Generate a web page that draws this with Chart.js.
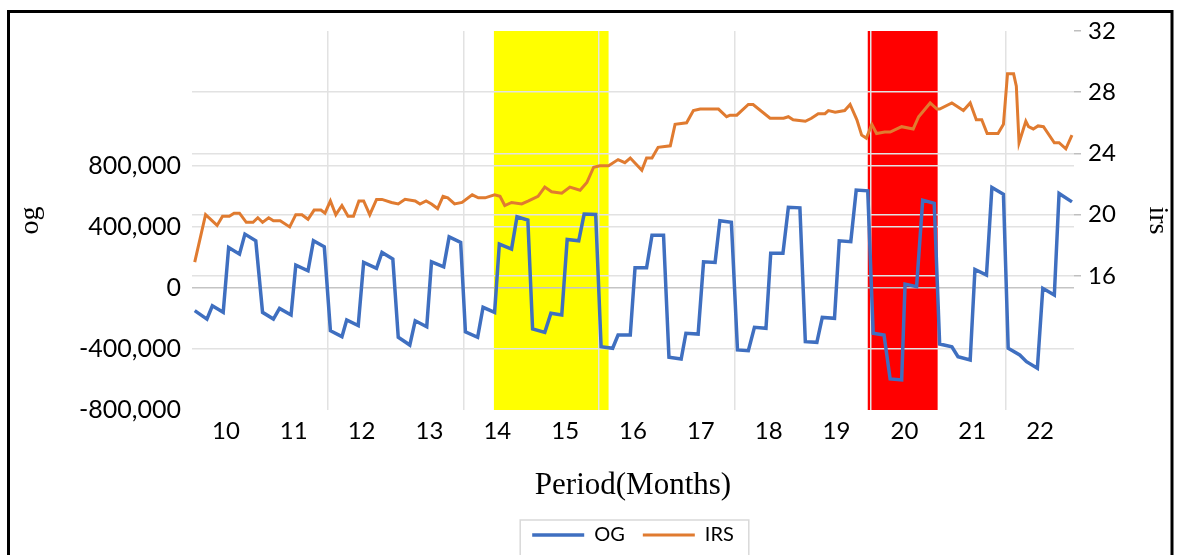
<!DOCTYPE html>
<html lang="en">

<head>
    <meta charset="UTF-8">
    <title>OG vs IRS</title>
    <script src="https://cdn.jsdelivr.net/npm/chart.js"></script>
    <style>
        body {
            margin: 0;
            background: #ffffff;
        }

        .chart-container {
            width: 1180px;
            height: 555px;
            position: relative;
        }
    </style>
</head>

<body>

    <div class="chart-container">
        <canvas id="ogIrsChart"></canvas>
    </div>

    <script>
        // OG series (left axis)
        const ogMonths = [
            9.54, 9.72, 9.80, 9.96, 10.04, 10.20, 10.28, 10.44, 10.54, 10.70, 10.79, 10.96,
            11.03, 11.21, 11.29, 11.45, 11.54, 11.71, 11.78, 11.95, 12.03, 12.22, 12.30, 12.46,
            12.54, 12.71, 12.79, 12.96, 13.03, 13.21, 13.29, 13.46, 13.53, 13.71, 13.79, 13.96,
            14.03, 14.21, 14.29, 14.45, 14.52, 14.70, 14.79, 14.95, 15.03, 15.20, 15.28, 15.45,
            15.53, 15.70, 15.78, 15.96, 16.03, 16.20, 16.28, 16.45, 16.53, 16.71, 16.78, 16.96,
            17.04, 17.21, 17.28, 17.45, 17.54, 17.70, 17.79, 17.96, 18.03, 18.21, 18.29, 18.46,
            18.54, 18.71, 18.79, 18.97, 19.04, 19.21, 19.29, 19.46, 19.54, 19.70, 19.79, 19.96,
            20.01, 20.18, 20.27, 20.44, 20.52, 20.70, 20.79, 20.97, 21.04, 21.21, 21.29, 21.46,
            21.53, 21.70, 21.80, 21.96, 22.04, 22.21, 22.28, 22.47
        ];
        const ogValues = [
            -150000, -205000, -118000, -161000, 264000, 220000, 351000, 307000,
            -161000, -205000, -135000, -178000, 148000, 111000, 307000, 268000,
            -281000, -320000, -211000, -248000, 166000, 127000, 231000, 188000,
            -324000, -375000, -216000, -255000, 170000, 137000, 333000, 297000,
            -288000, -324000, -128000, -161000, 286000, 253000, 464000, 443000,
            -270000, -292000, -167000, -178000, 316000, 307000, 482000, 480000,
            -386000, -396000, -309000, -309000, 131000, 131000, 344000, 344000,
            -455000, -466000, -298000, -303000, 170000, 166000, 438000, 428000,
            -407000, -412000, -259000, -265000, 225000, 225000, 526000, 523000,
            -353000, -357000, -194000, -200000, 307000, 301000, 639000, 634000,
            -298000, -309000, -597000, -603000, 24000, 7000, 573000, 552000,
            -368000, -386000, -451000, -473000, 120000, 83000, 656000, 612000,
            -396000, -440000, -484000, -527000, -4000, -48000, 617000, 562000
        ];

        // IRS series (right axis)
        const irsMonths = [
            9.54, 9.70, 9.87, 9.95, 10.05, 10.12, 10.20, 10.30, 10.40, 10.47,
            10.54, 10.63, 10.70, 10.80, 10.94, 11.03, 11.12, 11.21, 11.30, 11.40,
            11.46, 11.54, 11.62, 11.71, 11.80, 11.88, 11.96, 12.03, 12.12, 12.22,
            12.30, 12.44, 12.54, 12.64, 12.79, 12.86, 12.95, 13.03, 13.12, 13.20,
            13.27, 13.37, 13.48, 13.63, 13.72, 13.82, 13.96, 14.04, 14.11, 14.21,
            14.36, 14.46, 14.60, 14.70, 14.80, 14.95, 15.07, 15.22, 15.32, 15.42,
            15.51, 15.64, 15.78, 15.88, 15.96, 16.13, 16.20, 16.28, 16.37, 16.55,
            16.62, 16.79, 16.89, 16.99, 17.13, 17.26, 17.38, 17.43, 17.53, 17.70,
            17.77, 18.02, 18.22, 18.29, 18.36, 18.54, 18.63, 18.73, 18.83, 18.88,
            18.98, 19.12, 19.20, 19.30, 19.37, 19.44, 19.52, 19.59, 19.71, 19.79,
            19.96, 20.13, 20.21, 20.38, 20.48, 20.52, 20.70, 20.87, 20.97, 21.06,
            21.14, 21.22, 21.38, 21.46, 21.52, 21.61, 21.65, 21.69, 21.79, 21.83,
            21.90, 21.97, 22.05, 22.21, 22.28, 22.38, 22.47
        ];
        const irsValues = [
            16.9, 20.0, 19.3, 19.9, 19.9, 20.1, 20.1, 19.5, 19.5, 19.8,
            19.5, 19.8, 19.6, 19.6, 19.2, 20.0, 20.0, 19.7, 20.3, 20.3,
            20.1, 20.9, 20.0, 20.6, 19.9, 19.9, 20.9, 20.9, 20.0, 21.0,
            21.0, 20.8, 20.7, 21.0, 20.9, 20.7, 20.9, 20.7, 20.4, 21.2,
            21.1, 20.7, 20.8, 21.3, 21.1, 21.1, 21.3, 21.2, 20.6, 20.8,
            20.7, 20.9, 21.2, 21.8, 21.5, 21.4, 21.8, 21.6, 22.1, 23.1,
            23.2, 23.2, 23.6, 23.4, 23.7, 22.9, 23.7, 23.7, 24.4, 24.5,
            25.9, 26.0, 26.8, 26.9, 26.9, 26.9, 26.4, 26.5, 26.5, 27.2,
            27.2, 26.3, 26.3, 26.4, 26.2, 26.1, 26.3, 26.6, 26.6, 26.8,
            26.7, 26.8, 27.2, 26.2, 25.2, 25.0, 25.9, 25.3, 25.4, 25.4,
            25.75, 25.6, 26.4, 27.3, 26.9, 26.9, 27.3, 26.8, 27.3, 26.2,
            26.2, 25.3, 25.3, 25.9, 29.2, 29.2, 28.4, 24.7, 26.1, 25.75,
            25.6, 25.8, 25.75, 24.7, 24.7, 24.3, 25.2
        ];

        // axis ticks
        const monthTicks = [10, 11, 12, 13, 14, 15, 16, 17, 18, 19, 20, 21, 22];
        const gridMonths = [11.5, 13.5, 15.5, 17.5, 19.5, 21.5];
        const ogTicks = [-800000, -400000, 0, 400000, 800000];
        const irsTicks = [16, 20, 24, 28, 32];

        // highlighted periods (months)
        const yellowBand = [13.95, 15.64];
        const redBand = [19.46, 20.49];

        const gridColor = '#e2e2e2';
        const tickFont = { family: 'Lato', size: 24 };

        const framePlugin = {
            id: 'frame',
            beforeDraw(chart) {
                const { ctx, chartArea, scales } = chart;
                const x = scales.x;
                ctx.save();
                [[yellowBand, '#ffff00'], [redBand, '#ff0000']].forEach(([band, color]) => {
                    const x0 = x.getPixelForValue(band[0]);
                    const x1 = x.getPixelForValue(band[1]);
                    ctx.fillStyle = color;
                    ctx.fillRect(x0, chartArea.top, x1 - x0, chartArea.bottom - chartArea.top);
                });
                ctx.restore();
            },
            afterDraw(chart) {
                const ctx = chart.ctx;
                ctx.save();
                // box round the legend
                const boxes = chart.legend.legendHitBoxes;
                if (boxes && boxes.length) {
                    const first = boxes[0];
                    const last = boxes[boxes.length - 1];
                    const left = first.left - 12;
                    const right = last.left + last.width + 15;
                    ctx.strokeStyle = '#d9d9d9';
                    ctx.lineWidth = 1.5;
                    ctx.strokeRect(left, 520, right - left, 60);
                }
                // outer frame
                ctx.strokeStyle = '#000000';
                ctx.lineWidth = 3;
                ctx.strokeRect(8.5, 11.5, 1163.5, 600);
                ctx.restore();
            }
        };

        const ctx = document.getElementById('ogIrsChart').getContext('2d');
        const chart = new Chart(ctx, {
            type: 'line',
            data: {
                datasets: [{
                    label: 'OG',
                    data: ogMonths.map((m, i) => ({ x: m, y: ogValues[i] })),
                    borderColor: '#3f6fc0',
                    backgroundColor: '#3f6fc0',
                    borderWidth: 3.5,
                    pointRadius: 0,
                    tension: 0,
                    yAxisID: 'y'
                }, {
                    label: 'IRS',
                    data: irsMonths.map((m, i) => ({ x: m, y: irsValues[i] })),
                    borderColor: '#e07b30',
                    backgroundColor: '#e07b30',
                    borderWidth: 3,
                    pointRadius: 0,
                    tension: 0,
                    yAxisID: 'y1'
                }]
            },
            options: {
                responsive: true,
                maintainAspectRatio: false,
                animation: false,
                layout: {
                    padding: { top: 31, left: 0, right: 0, bottom: 0 }
                },
                plugins: {
                    legend: {
                        position: 'bottom',
                        fullSize: false,
                        labels: {
                            usePointStyle: true,
                            pointStyle: 'line',
                            pointStyleWidth: 52,
                            padding: 18,
                            color: '#000000',
                            font: { family: 'Lato', size: 20 }
                        }
                    },
                    tooltip: { enabled: false }
                },
                scales: {
                    x: {
                        type: 'linear',
                        min: 9.5,
                        max: 22.5,
                        afterBuildTicks: scale => {
                            scale.ticks = monthTicks.concat(gridMonths)
                                .sort((a, b) => a - b)
                                .map(v => ({ value: v }));
                        },
                        afterFit: scale => { scale.height = 97; },
                        ticks: {
                            autoSkip: false,
                            maxRotation: 0,
                            padding: 7,
                            color: '#000000',
                            font: tickFont,
                            callback: v => Number.isInteger(v) ? v : ''
                        },
                        grid: {
                            drawTicks: false,
                            lineWidth: 1.5,
                            color: c => (c.tick && !Number.isInteger(c.tick.value)) ? gridColor : 'rgba(0,0,0,0)'
                        },
                        border: { display: false },
                        title: {
                            display: true,
                            text: 'Period(Months)',
                            color: '#000000',
                            font: { family: 'Liberation Serif', size: 31 },
                            padding: { top: 0, bottom: 3 }
                        }
                    },
                    y: {
                        position: 'left',
                        min: -800000,
                        max: 1680000,
                        afterBuildTicks: scale => {
                            scale.ticks = ogTicks.map(v => ({ value: v }));
                        },
                        afterFit: scale => { scale.width = 192; },
                        ticks: {
                            padding: 11,
                            color: '#000000',
                            font: { family: 'Lato', size: 25 },
                            callback: v => v.toLocaleString('en-US')
                        },
                        grid: {
                            drawTicks: false,
                            lineWidth: 1.5,
                            color: c => {
                                if (!c.tick) return gridColor;
                                if (c.tick.value === 0) return '#c4c4c4';
                                if (c.tick.value === -800000) return 'rgba(0,0,0,0)';
                                return gridColor;
                            }
                        },
                        border: { display: false },
                        title: {
                            display: true,
                            text: 'og',
                            color: '#000000',
                            font: { family: 'Liberation Serif', size: 28 },
                            padding: { top: 14, bottom: 0 }
                        }
                    },
                    y1: {
                        position: 'right',
                        min: 7.24,
                        max: 32,
                        afterBuildTicks: scale => {
                            scale.ticks = irsTicks.map(v => ({ value: v }));
                        },
                        afterFit: scale => { scale.width = 106; },
                        ticks: {
                            padding: 7,
                            color: '#000000',
                            font: tickFont
                        },
                        grid: {
                            drawTicks: true,
                            tickLength: 7,
                            tickColor: '#bfbfbf',
                            lineWidth: 1.5,
                            color: c => (c.tick && c.tick.value === 32) ? 'rgba(0,0,0,0)' : gridColor
                        },
                        border: { display: false },
                        title: {
                            display: true,
                            text: 'irs',
                            color: '#000000',
                            font: { family: 'Liberation Serif', size: 28 },
                            padding: { top: 6, bottom: 0 }
                        }
                    }
                }
            },
            plugins: [framePlugin]
        });
    </script>

</body>

</html>
